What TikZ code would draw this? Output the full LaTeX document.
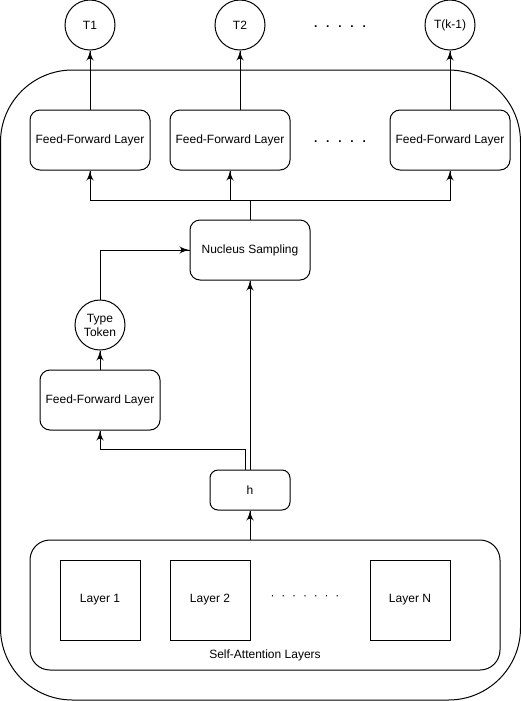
\documentclass[tikz,border=0pt]{standalone}
\usepackage{fontspec}
\setmainfont{Liberation Sans}
\usetikzlibrary{arrows}
\usetikzlibrary{decorations.markings}
\tikzset{->/.style = {decoration={markings,
                                  mark=at position 1 with {\arrow[scale=1.5]{latex'}}},
                      postaction={decorate}}}
\tikzset{ffbox/.style = {draw, rounded corners=7.5pt, minimum width=90pt,
                         minimum height=45pt, inner sep=0pt},
         tokcirc/.style = {draw, circle, minimum size=37.5pt, inner sep=0pt,
                           align=center},
         layerbox/.style = {draw, minimum size=60pt, inner sep=0pt}}

\begin{document}
\begin{tikzpicture}[x=0.75pt, y=-0.75pt, line width=0.75pt,
                    font=\fontsize{9}{10.5}\selectfont]
    \useasboundingbox (0,0) rectangle (521,701);
    % outer frame
    \node [draw, rounded corners=54pt, minimum width=390pt,
           minimum height=472.5pt] (frame) at (260.5,385) {};
    % output tokens
    \node [tokcirc] (t1) at (90,25) {T1};
    \node [tokcirc] (t2) at (240,25) {T2};
    \node [tokcirc] (tk) at (450,25) {T(k-1)};
    \node [font=\fontsize{9}{10.5}\selectfont\bfseries] (topdots) at (340,27)
          {.\hspace{6.6pt}.\hspace{6.6pt}.\hspace{6.6pt}.\hspace{6.6pt}.};
    % output heads
    \node [ffbox] (ff1) at (90,140) {Feed-Forward Layer};
    \node [ffbox] (ff2) at (230,140) {Feed-Forward Layer};
    \node [ffbox] (ffk) at (450,140) {Feed-Forward Layer};
    \node [font=\fontsize{9}{10.5}\selectfont\bfseries] (middots) at (340,142)
          {.\hspace{6.6pt}.\hspace{6.6pt}.\hspace{6.6pt}.\hspace{6.6pt}.};
    \node [ffbox] (nucleus) at (250,250) {Nucleus Sampling};
    \coordinate (bus) at (250,200);
    % type branch
    \node [tokcirc] (type) at (100,325) {Type\\Token};
    \node [ffbox] (fftype) at (100,400) {Feed-Forward Layer};
    \node [ffbox, rounded corners=6pt, minimum width=60pt,
           minimum height=30pt] (h) at (250,490) {h};
    % self-attention stack
    \node [draw, rounded corners=15pt, minimum width=352.5pt,
           minimum height=97.5pt] (sa) at (265,605) {};
    \node [layerbox] (lay1) at (100,600) {Layer 1};
    \node [layerbox] (lay2) at (210,600) {Layer 2};
    \node [layerbox] (layn) at (410,600) {Layer N};
    \node (laydots) at (305,598) {·\hspace{5.1pt}·\hspace{5.1pt}·\hspace{5.1pt}·\hspace{5.1pt}·\hspace{5.1pt}·\hspace{5.1pt}·};
    \node (salabel) at (265,655) {Self-Attention Layers};

    \draw [->] (ff1.north) -- (t1.south);
    \draw [->] (ff2.north -| t2.south) -- (t2.south);
    \draw [->] (ffk.north) -- (tk.south);
    \draw (nucleus.north) -- (bus);
    \draw [->] (bus) -| (ff1.south);
    \draw [->] (bus) -| (ffk.south);
    \draw [->] (bus -| ff2.south) -- (ff2.south);
    \draw [->] (type.north) |- (nucleus.west);
    \draw [->] (fftype.north) -- (type.south);
    \draw [->] ([xshift=-3.75pt]h.north) -- ++(0,-20) -| (fftype.south);
    \draw [->] (h.north) -- (nucleus.south);
    \draw [->] (sa.north -| h.south) -- (h.south);
  \end{tikzpicture}
\end{document}
